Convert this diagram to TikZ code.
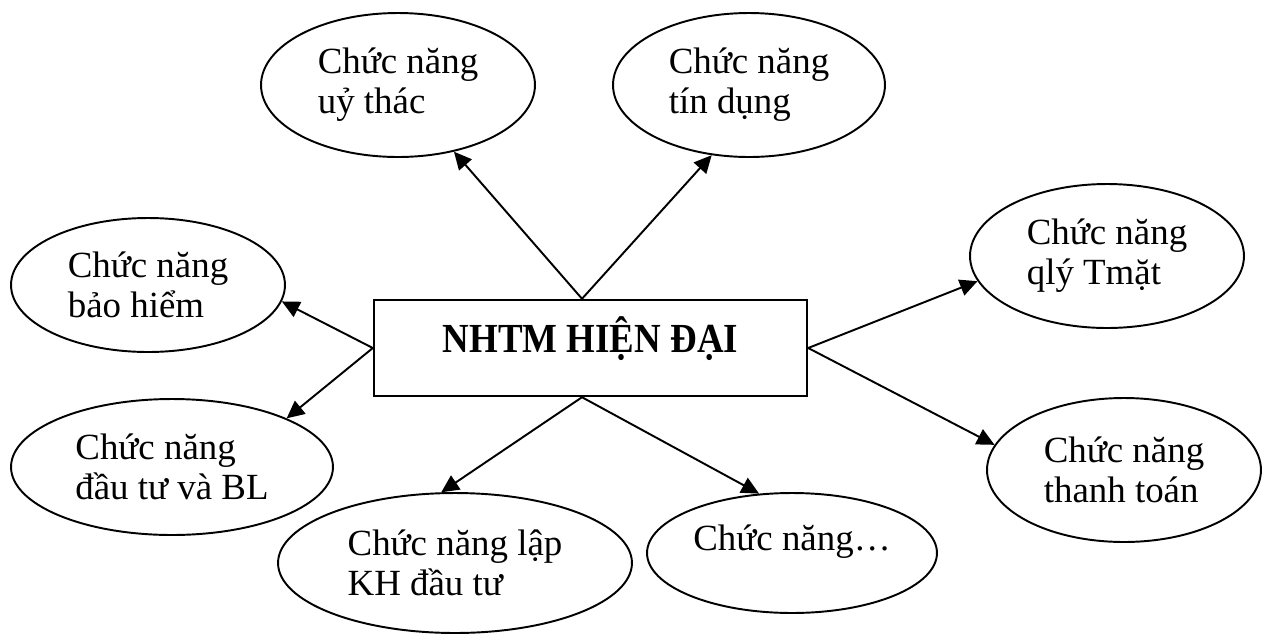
\documentclass[tikz,border=0pt]{standalone}
\usepackage{fontspec}
\setmainfont{Liberation Serif}
\usepackage{tikz}
\usetikzlibrary{shapes.geometric,arrows.meta}

\begin{document}
\begin{tikzpicture}[x=0.02cm,y=-0.02cm,
  func/.style={draw,ellipse,line width=1.1pt,inner sep=0pt,font=\fontsize{21}{22.8}\selectfont},
  two/.style={func,align=left},
  conn/.style={line width=1.1pt,-{Triangle[length=10pt,width=9.5pt]}}]
\useasboundingbox (0,0) rectangle (1269,633);
\node[draw,line width=1.4pt,minimum width=8.66cm,minimum height=1.92cm,text height=16pt,text depth=11.4pt,font=\fontsize{21}{22.8}\selectfont\bfseries] (nhtm) at (590.5,348) {\scalebox{1}[1.12]{NHTM HIỆN ĐẠI}};
\node[two,minimum width=5.48cm,minimum height=2.88cm] (uythac) at (398,85) {Chức năng\\uỷ thác};
\node[two,minimum width=5.44cm,minimum height=2.88cm] (tindung) at (749,85) {Chức năng\\tín dụng};
\node[two,minimum width=5.48cm,minimum height=2.68cm] (baohiem) at (148,285) {Chức năng\\bảo hiểm};
\node[two,minimum width=6.44cm,minimum height=2.72cm] (dautu) at (172,467) {Chức năng\\đầu tư và BL};
\node[two,minimum width=7.08cm,minimum height=2.80cm] (lapkh) at (455,563) {Chức năng lập\\KH đầu tư};
\node[func,minimum width=5.80cm,minimum height=2.40cm,text height=17pt,text depth=20.4pt] (khac) at (792,553) {Chức năng…};
\node[two,minimum width=5.48cm,minimum height=2.88cm] (tmat) at (1107,256) {Chức năng\\qlý Tmặt};
\node[two,minimum width=5.48cm,minimum height=2.88cm] (thtoan) at (1124,470) {Chức năng\\thanh toán};
\draw[conn] ([xshift=-0.17cm]nhtm.north) -- (uythac.-50.6);
\draw[conn] ([xshift=-0.17cm]nhtm.north) -- (tindung.-118.1);
\draw[conn] (nhtm.west) -- (baohiem.-7.4);
\draw[conn] (nhtm.west) -- (dautu.23.5);
\draw[conn] ([xshift=-0.17cm]nhtm.south) -- (lapkh.101.9);
\draw[conn] ([xshift=-0.17cm]nhtm.south) -- (khac.119.8);
\draw[conn] (nhtm.east) -- (tmat.-169.3);
\draw[conn] (nhtm.east) -- (thtoan.169.7);
\end{tikzpicture}
\end{document}
